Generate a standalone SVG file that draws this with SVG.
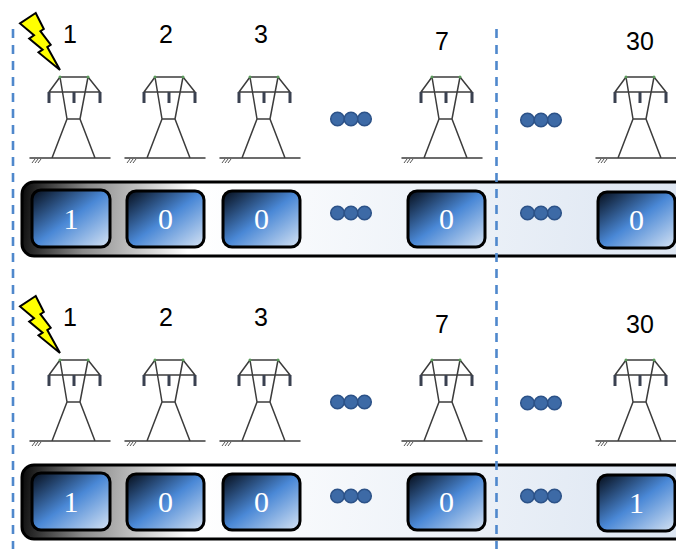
<svg xmlns="http://www.w3.org/2000/svg" xmlns:xlink="http://www.w3.org/1999/xlink" width="676" height="549" viewBox="0 0 676 549">
  <defs>
    <style>
      .guide { stroke: #4f88cc; stroke-width: 2.6; stroke-dasharray: 9 7; fill: none; }
      .num { font-family: "Liberation Sans", Arial, sans-serif; font-size: 25px; fill: #000; text-anchor: middle; }
      .bit { font-family: "Liberation Serif", "Times New Roman", serif; font-size: 30px; fill: #fff; text-anchor: middle; }
      .twr { stroke: #3c3c3c; stroke-width: 1.5; fill: none; stroke-linecap: round; }
      .ins { fill: #3a4150; }
      .tip { fill: #5a9a5a; }
      .bolt { fill: #ffff00; stroke: #000; stroke-width: 2; stroke-linejoin: miter; }
      .bar { stroke: #000; stroke-width: 3; }
      .cell { stroke: #000; stroke-width: 3; fill: url(#cellGrad); }
      .dot { fill: #3d6aa6; stroke: #2c5288; stroke-width: 1.5; }
    </style>
    <linearGradient id="cellGrad" x1="0" y1="0" x2="1" y2="1">
      <stop offset="0" stop-color="#050c18"/>
      <stop offset="0.5" stop-color="#4a88d6"/>
      <stop offset="1" stop-color="#d6e3f3"/>
    </linearGradient>
    <linearGradient id="barGrad1" gradientUnits="userSpaceOnUse" x1="22" y1="190" x2="676" y2="250">
      <stop offset="0" stop-color="#0a0a0a"/>
      <stop offset="0.1" stop-color="#8a8a8a"/>
      <stop offset="0.26" stop-color="#ffffff"/>
      <stop offset="1" stop-color="#dde6f2"/>
    </linearGradient>
    <linearGradient id="barGrad2" gradientUnits="userSpaceOnUse" x1="22" y1="473" x2="676" y2="533">
      <stop offset="0" stop-color="#0a0a0a"/>
      <stop offset="0.1" stop-color="#8a8a8a"/>
      <stop offset="0.26" stop-color="#ffffff"/>
      <stop offset="1" stop-color="#dde6f2"/>
    </linearGradient>
    <!-- transmission tower, drawn around x = 0 -->
    <g id="tower">
      <path class="twr" d="M-14,77 H14 M-25,92 H26 M-14,77 L-25,92 M14,77 L26,92 M-14,77 L-7,119 M14,77 L6,119 M-7,119 H6 M-7,119 L-22,158 M6,119 L21,158 M-44,158 H36"/>
      <path d="M-42,163 l3,-4 M-39,163 l3,-4 M-36,163 l3,-4" stroke="#555" stroke-width="1" fill="none"/>
      <rect class="ins" x="-26.5" y="92" width="3" height="11"/>
      <rect class="ins" x="-1.5" y="92" width="3" height="11"/>
      <rect class="ins" x="24.5" y="92" width="3" height="11"/>
      <circle class="tip" cx="-14" cy="77" r="1.5"/>
      <circle class="tip" cx="14" cy="77" r="1.5"/>
    </g>
    <!-- three-dot ellipsis centred on 0,0 -->
    <g id="more">
      <circle class="dot" cx="-13.5" cy="0" r="6.8"/>
      <circle class="dot" cx="0" cy="0" r="6.8"/>
      <circle class="dot" cx="13.5" cy="0" r="6.8"/>
    </g>
    <polygon id="boltShape" class="bolt" points="35.7,13 20,23.4 34,35.2 29.2,38.6 42.6,49.7 38.5,52.4 60,70 47.3,47.1 50.7,44.7 40.4,31.2 43.8,29"/>
  </defs>

  <rect width="676" height="549" fill="#ffffff"/>

  <!-- ===== upper scenario ===== -->
  <g id="bar-top">
    <rect class="bar" x="22" y="182" width="680" height="74" rx="12" fill="url(#barGrad1)"/>
  </g>

  <g id="strike-top"><use xlink:href="#boltShape"/></g>

  <g id="tower-top-1"><text class="num" x="70" y="43">1</text><use xlink:href="#tower" x="74"/></g>
  <g id="tower-top-2"><text class="num" x="166" y="43">2</text><use xlink:href="#tower" x="169"/></g>
  <g id="tower-top-3"><text class="num" x="261" y="43">3</text><use xlink:href="#tower" x="264"/></g>
  <g id="tower-top-7"><text class="num" x="442" y="50">7</text><use xlink:href="#tower" x="446"/></g>
  <g id="tower-top-30"><text class="num" x="640" y="50">30</text><use xlink:href="#tower" x="640"/></g>
  <g id="more-top-a"><use xlink:href="#more" x="351" y="119"/></g>
  <g id="more-top-b"><use xlink:href="#more" x="541" y="120"/></g>

  <g id="cell-top-1"><rect class="cell" x="32" y="190" width="78" height="57" rx="9"/><text class="bit" x="71" y="229">1</text></g>
  <g id="cell-top-2"><rect class="cell" x="127" y="191" width="77" height="56" rx="9"/><text class="bit" x="165.5" y="229">0</text></g>
  <g id="cell-top-3"><rect class="cell" x="223" y="191" width="77" height="56" rx="9"/><text class="bit" x="261.5" y="229">0</text></g>
  <g id="cell-top-7"><rect class="cell" x="408" y="191" width="77" height="56" rx="9"/><text class="bit" x="446.5" y="229">0</text></g>
  <g id="cell-top-30"><rect class="cell" x="598" y="192" width="77" height="56" rx="9"/><text class="bit" x="636.5" y="230">0</text></g>
  <g id="more-bar-top-a"><use xlink:href="#more" x="351" y="213"/></g>
  <g id="more-bar-top-b"><use xlink:href="#more" x="541" y="213"/></g>

  <!-- ===== lower scenario ===== -->
  <g id="bar-bottom">
    <rect class="bar" x="22" y="465" width="680" height="74" rx="12" fill="url(#barGrad2)"/>
  </g>

  <g id="strike-bottom"><use xlink:href="#boltShape" y="283"/></g>

  <g id="tower-bottom-1"><text class="num" x="70" y="326">1</text><use xlink:href="#tower" x="74" y="283"/></g>
  <g id="tower-bottom-2"><text class="num" x="166" y="326">2</text><use xlink:href="#tower" x="169" y="283"/></g>
  <g id="tower-bottom-3"><text class="num" x="261" y="326">3</text><use xlink:href="#tower" x="264" y="283"/></g>
  <g id="tower-bottom-7"><text class="num" x="442" y="333">7</text><use xlink:href="#tower" x="446" y="283"/></g>
  <g id="tower-bottom-30"><text class="num" x="640" y="333">30</text><use xlink:href="#tower" x="640" y="283"/></g>
  <g id="more-bottom-a"><use xlink:href="#more" x="351" y="402"/></g>
  <g id="more-bottom-b"><use xlink:href="#more" x="541" y="403"/></g>

  <g id="cell-bottom-1"><rect class="cell" x="32" y="473" width="78" height="57" rx="9"/><text class="bit" x="71" y="512">1</text></g>
  <g id="cell-bottom-2"><rect class="cell" x="127" y="474" width="77" height="56" rx="9"/><text class="bit" x="165.5" y="512">0</text></g>
  <g id="cell-bottom-3"><rect class="cell" x="223" y="474" width="77" height="56" rx="9"/><text class="bit" x="261.5" y="512">0</text></g>
  <g id="cell-bottom-7"><rect class="cell" x="408" y="474" width="77" height="56" rx="9"/><text class="bit" x="446.5" y="512">0</text></g>
  <g id="cell-bottom-30"><rect class="cell" x="598" y="475" width="77" height="56" rx="9"/><text class="bit" x="636.5" y="513">1</text></g>
  <g id="more-bar-bottom-a"><use xlink:href="#more" x="351" y="496"/></g>
  <g id="more-bar-bottom-b"><use xlink:href="#more" x="541" y="496"/></g>

  <!-- dashed section boundaries -->
  <g id="connectors">
    <line class="guide" x1="13" y1="29" x2="13" y2="549"/>
    <line class="guide" x1="496.5" y1="29" x2="496.5" y2="549"/>
  </g>
</svg>
